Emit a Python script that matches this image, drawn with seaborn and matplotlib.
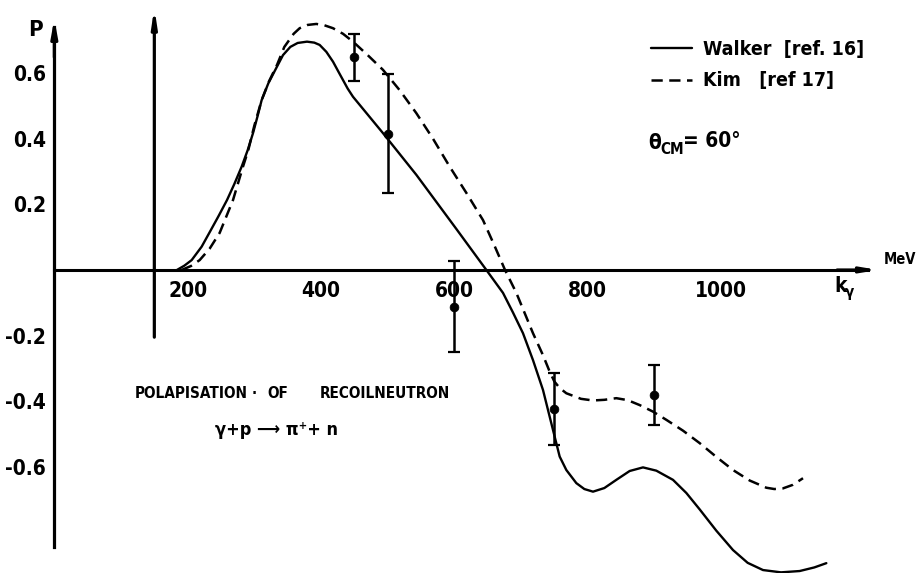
import matplotlib
matplotlib.use("Agg")
import matplotlib.pyplot as plt
import seaborn as sns
import pandas as pd

# ---------------- data ----------------
walker_k = [184, 195, 206, 221, 233, 246, 259, 270, 281, 290, 298, 305, 311, 321, 334, 343, 354,
            365, 379, 390, 398, 408, 418, 426, 433, 440, 448, 493, 543, 603, 648, 673, 688, 703,
            718, 733, 748, 758, 768, 783, 795, 808, 825, 843, 863, 883, 903, 928, 948, 968, 993,
            1018, 1040, 1063, 1090, 1118, 1140, 1158]
walker_p = [0.0, 0.013, 0.03, 0.071, 0.115, 0.163, 0.213, 0.262, 0.315, 0.365, 0.417, 0.47, 0.518,
            0.569, 0.62, 0.655, 0.68, 0.692, 0.696, 0.693, 0.686, 0.665, 0.635, 0.605, 0.579, 0.553,
            0.528, 0.417, 0.29, 0.125, 0.0, -0.07, -0.13, -0.193, -0.275, -0.366, -0.488, -0.569,
            -0.61, -0.65, -0.668, -0.676, -0.665, -0.64, -0.613, -0.602, -0.612, -0.64, -0.68,
            -0.73, -0.795, -0.854, -0.893, -0.915, -0.922, -0.918, -0.907, -0.894]

kim_k = [191, 205, 218, 233, 248, 268, 283, 291, 300, 311, 322, 334, 345, 352, 359, 368, 380, 393,
         405, 418, 433, 448, 470, 493, 518, 543, 568, 593, 618, 643, 660, 676, 693, 718, 733, 743,
         750, 758, 768, 790, 808, 825, 843, 860, 878, 898, 918, 943, 968, 993, 1018, 1043, 1068,
         1080, 1093, 1108, 1123]
kim_p = [0.0, 0.012, 0.03, 0.065, 0.113, 0.213, 0.315, 0.366, 0.44, 0.518, 0.575, 0.625, 0.68,
         0.70, 0.72, 0.737, 0.747, 0.75, 0.746, 0.737, 0.72, 0.696, 0.655, 0.61, 0.548, 0.478, 0.4,
         0.315, 0.235, 0.152, 0.075, 0.0, -0.07, -0.193, -0.26, -0.31, -0.34, -0.36, -0.376,
         -0.393, -0.398, -0.396, -0.391, -0.397, -0.412, -0.432, -0.457, -0.49, -0.528, -0.57,
         -0.61, -0.642, -0.664, -0.668, -0.666, -0.655, -0.635]

exp_k = [450, 500, 600, 750, 900]
exp_p = [0.648, 0.415, -0.112, -0.425, -0.381]
exp_err = [0.072, 0.181, 0.138, 0.11, 0.092]

x_ticks = [200, 400, 600, 800, 1000]
x_labels = ["200", "400", "600", "800", "1000"]
y_ticks = [-0.6, -0.4, -0.2, 0.2, 0.4, 0.6]
y_labels = ["-0.6", "-0.4", "-0.2", "0.2", "0.4", "0.6"]

legend_labels = ["Walker  [ref. 16]", "Kim   [ref 17]"]

# ---------------- style ----------------
sns.set_style("white")
plt.rcParams["font.family"] = ["DejaVu Sans"]
plt.rcParams["font.stretch"] = "condensed"
plt.rcParams["font.weight"] = "bold"
for key in ["text.color", "axes.labelcolor", "xtick.color", "ytick.color", "axes.edgecolor"]:
    plt.rcParams[key] = "black"

W, H = 919, 573
fig = plt.figure(figsize=(W / 100, H / 100), dpi=100)
ax = fig.add_axes([0, 0, 1, 1])
ax.set_xlim(-81.5, 1297)
ax.set_ylim(-0.924, 0.823)
ax.patch.set_alpha(0)


def px(x, y):
    return x / W, 1 - y / H


walker = pd.DataFrame({"k": walker_k, "P": walker_p})
kim = pd.DataFrame({"k": kim_k, "P": kim_p})

sns.lineplot(data=walker, x="k", y="P", ax=ax, color="black", lw=1.7,
             label=legend_labels[0], sort=False)
sns.lineplot(data=kim, x="k", y="P", ax=ax, color="black", lw=1.8,
             label=legend_labels[1], sort=False)
ax.get_lines()[-1].set_dashes((4.5, 2.6))

ax.errorbar(exp_k, exp_p, yerr=exp_err, fmt="none", ecolor="black", elinewidth=1.8,
            capsize=4.5, capthick=1.6, zorder=4)
sns.scatterplot(x=exp_k, y=exp_p, ax=ax, color="black", s=40, zorder=5, edgecolor="black",
                legend=False)

# axes as in the drawing
for s in ["top", "right"]:
    ax.spines[s].set_visible(False)
ax.spines["left"].set_position(("data", 0))
ax.spines["bottom"].set_position(("data", 0))
ax.spines["left"].set_bounds(-0.844, 0.74)
ax.spines["bottom"].set_bounds(0, 1220)
ax.spines["left"].set_linewidth(2.3)
ax.spines["bottom"].set_linewidth(2.2)

ax.set_xticks(x_ticks)
ax.set_xticklabels(x_labels)
ax.set_yticks(y_ticks)
ax.set_yticklabels(y_labels)
ax.tick_params(axis="both", direction="out", length=5, width=1.5, labelsize=15, colors="black")
ax.tick_params(axis="x", pad=3)
ax.tick_params(axis="y", pad=1)
ax.set_xlabel("")
ax.set_ylabel("")

# arrow heads
ax.annotate("", xy=(0, 0.775), xytext=(0, 0.64),
            arrowprops=dict(arrowstyle="-|>,head_length=1.0,head_width=0.18", color="black", lw=2.3))
ax.annotate("", xy=(1240, 0), xytext=(1170, 0),
            arrowprops=dict(arrowstyle="-|>,head_length=0.9,head_width=0.15", color="black", lw=2.2))
ax.annotate("", xy=(150, 0.80), xytext=(150, -0.205),
            arrowprops=dict(arrowstyle="-|>,head_length=1.0,head_width=0.15", color="black", lw=2.3,
                            shrinkA=0, shrinkB=0))

# legend
leg = ax.legend(loc="upper left", bbox_to_anchor=px(641, 30), bbox_transform=fig.transFigure,
                frameon=False, fontsize=14, handlelength=2.1, handletextpad=0.6,
                labelspacing=0.65, borderpad=0)

# texts
fig.text(*px(35, 30), "P", fontsize=16, ha="center", va="center")
fig.text(*px(648, 143), "θ", fontsize=15, ha="left", va="center")
fig.text(*px(660, 150), "CM", fontsize=11, ha="left", va="center")
fig.text(*px(683, 141), "= 60°", fontsize=15, ha="left", va="center")
fig.text(*px(916, 259), "MeV", fontsize=10.5, ha="right", va="center")
fig.text(*px(834, 286), "k", fontsize=15, ha="left", va="center")
fig.text(*px(845, 293), "γ", fontsize=11, ha="left", va="center")

fig.text(*px(135, 393), "POLAPISATION", fontsize=11, ha="left", va="center")
fig.text(*px(252, 393), "·", fontsize=11, ha="left", va="center")
fig.text(*px(267, 393), "OF", fontsize=11, ha="left", va="center")
fig.text(*px(320, 393), "RECOILNEUTRON", fontsize=11, ha="left", va="center")
fig.text(*px(215, 430), "γ+p ⟶ π⁺+ n", fontsize=13, ha="left", va="center")

fig.savefig("out.png", dpi=100, facecolor="white")
